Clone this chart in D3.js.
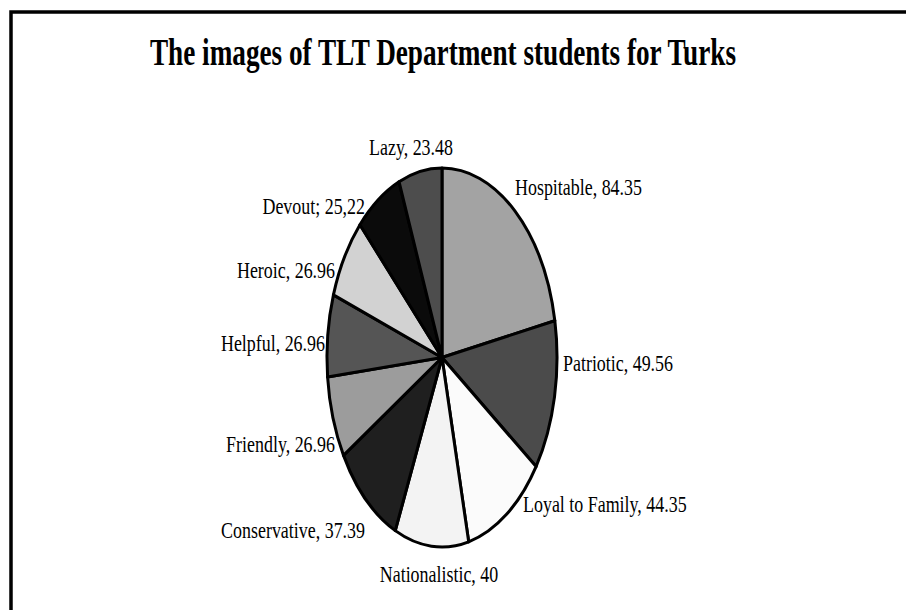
<!DOCTYPE html>
<html>
<head>
<meta charset="utf-8">
<script src="https://cdn.jsdelivr.net/npm/d3@7"></script>
<style>
  html, body { margin: 0; padding: 0; background: #fff; }
  svg { display: block; }
  text { font-family: "Liberation Serif", "Times New Roman", serif; fill: #000; }
</style>
</head>
<body>
<svg id="chart" width="906" height="610"></svg>
<script>
// ---- data ----
const categories = ["Hospitable", "Patriotic", "Loyal to Family", "Nationalistic", "Conservative",
                    "Friendly", "Helpful", "Heroic", "Devout", "Lazy"];
const values = [84.35, 49.56, 44.35, 40, 37.39, 26.96, 26.96, 26.96, 25.22, 23.48];
const valueLabels = ["84.35", "49.56", "44.35", "40", "37.39", "26.96", "26.96", "26.96", "25,22", "23.48"];
const separators = [", ", ", ", ", ", ", ", ", ", ", ", ", ", ", ", "; ", ", "];
const title = "The images of TLT Department students for Turks";

// ---- styles / layout ----
const fills = ["#a3a3a3", "#4b4b4b", "#fbfbfb", "#f3f3f3", "#1f1f1f",
               "#9c9c9c", "#555555", "#d2d2d2", "#0b0b0b", "#4d4d4d"];
const labelLayout = [ // [x, y(center), anchor]
  [515, 187, "start"], [563, 363, "start"], [523, 504, "start"], [439, 574, "middle"],
  [365, 530, "end"], [335, 444, "end"], [325, 343, "end"], [335, 270, "end"],
  [365, 206, "end"], [411, 147, "middle"]
];
const cx = 442, cy = 357.5, R = 189.5, squeeze = 0.607;
const textSqueeze = 0.78;

const svg = d3.select("#chart");

// frame
svg.append("rect")
  .attr("x", 11).attr("y", 12).attr("width", 1000).attr("height", 1000)
  .attr("fill", "none").attr("stroke", "#000").attr("stroke-width", 3.5);

// title
const tg = svg.append("g").attr("transform", `translate(443,65) scale(0.716,1)`);
tg.append("text").attr("text-anchor", "middle")
  .attr("font-size", 38).attr("font-weight", "bold").text(title);

// pie
const pie = d3.pie().sort(null).value(d => d)(values);
const arc = d3.arc().innerRadius(0).outerRadius(R);
const pg = svg.append("g").attr("transform", `translate(${cx},${cy}) scale(${squeeze},1)`);
pg.selectAll("path").data(pie).join("path")
  .attr("d", arc)
  .attr("fill", (d, i) => fills[i])
  .attr("stroke", "#000")
  .attr("stroke-width", 3)
  .attr("stroke-linejoin", "round")
  .attr("vector-effect", "non-scaling-stroke");

// labels
const lg = svg.append("g");
categories.forEach((c, i) => {
  const [x, y, anchor] = labelLayout[i];
  lg.append("g").attr("transform", `translate(${x},${y}) scale(${textSqueeze},1)`)
    .append("text")
    .attr("text-anchor", anchor)
    .attr("dy", "0.35em")
    .attr("font-size", 23)
    .text(c + separators[i] + valueLabels[i]);
});
</script>
</body>
</html>
